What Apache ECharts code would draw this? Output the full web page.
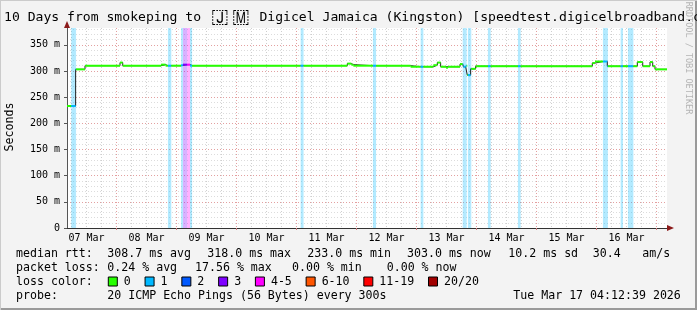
<!DOCTYPE html>
<html><head><meta charset="utf-8">
<script src="https://cdn.jsdelivr.net/npm/echarts@6/dist/echarts.min.js"></script>
<style>html,body{margin:0;padding:0;background:#f3f3f3}#c{width:697px;height:310px}</style>
</head><body><div id="c"></div><script>
// ---------------- data ----------------
const startTime = '03-07 04:12:39';
const endTime   = '03-17 04:12:39';
// median rtt step segments: start time, value (ms), loss class index
const segStart = ['03-07 04:12:39','03-07 05:55','03-07 07:40','03-07 07:50','03-07 11:25','03-08 01:25','03-08 02:30','03-08 17:50','03-08 19:40','03-08 20:35',
  '03-08 21:55','03-09 01:50','03-09 02:35','03-09 04:15','03-09 05:25','03-09 06:15','03-11 01:40','03-11 02:50','03-11 20:20','03-11 21:55',
  '03-11 22:45','03-12 06:35','03-12 07:50','03-12 21:40','03-13 01:40','03-13 02:45','03-13 06:45','03-13 08:20','03-13 09:40','03-13 11:50',
  '03-13 12:35','03-13 17:25','03-13 18:30','03-13 18:45','03-13 19:40','03-13 20:05','03-13 20:20','03-13 20:35','03-13 21:40','03-13 21:55',
  '03-13 23:40','03-14 04:35','03-14 05:40','03-14 16:35','03-14 17:40','03-15 22:20','03-15 23:25','03-16 02:35','03-16 04:20','03-16 04:35',
  '03-16 09:40','03-16 10:35','03-16 12:35','03-16 14:45','03-16 16:20','03-16 18:30','03-16 21:25','03-16 22:30','03-16 23:25'];
const medianMs = [233,233,303,303,310,316,310,312,310,310,
  310,311,312,312,310,310,310,310,314,312,
  310,310,310,308,308,308,311,316,308,306,
  308,313,313,308,310,310,292,292,304,304,
  309,309,309,309,309,315,318,318,309,309,
  309,309,309,309,317,309,317,309,303];
const lossIdx = [0,1,1,0,0,0,0,0,0,1,
  0,1,3,4,1,0,1,0,0,0,
  0,1,0,0,1,0,0,0,0,0,
  0,0,1,1,1,0,0,1,1,0,
  0,1,0,1,0,0,0,1,1,0,
  1,0,1,0,0,0,0,0,0];
const lossLabels = ['0','1','2','3','4-5','6-10','11-19','20/20'];
const lossColors = ['#26ff00','#00b8ff','#0059ff','#7e00ff','#ff00ff','#ff5500','#ff0000','#a10000'];
const yTickValues = [0,50,100,150,200,250,300,350];
const yTickLabels = ['0','50 m','100 m','150 m','200 m','250 m','300 m','350 m'];
const yMinorValues = [10,20,30,40,60,70,80,90,110,120,130,140,160,170,180,190,210,220,230,240,260,270,280,290,310,320,330,340,360,370,380];
const yMax = 382;
const dayLabels = ['07 Mar','08 Mar','09 Mar','10 Mar','11 Mar','12 Mar','13 Mar','14 Mar','15 Mar','16 Mar'];
const titleParts = ['10 Days from smokeping to ', '\u{1F1EF}', '\u{1F1F2}', ' Digicel Jamaica (Kingston) [speedtest.digicelbroadband.com]'];
const statRows = [
  [['median rtt:',16],['308.7 ms avg',107.3],['318.0 ms max',207.3],['233.0 ms min',307.3],['303.0 ms now',407],['10.2 ms sd',508.3],['30.4',592.7],['am/s',642.3]],
  [['packet loss:',16],['0.24 % avg',107.3],['17.56 % max',195],['0.00 % min',292],['0.00 % now',386.7]],
  [['loss color:',16]],
  [['probe:',16],['20 ICMP Echo Pings (56 Bytes) every 300s',107.3],['Tue Mar 17 04:12:39 2026',513.3]]
];
// ---------------- helpers ----------------
function ts(s){const m=s.match(/(\d+)-(\d+) (\d+):(\d+)(?::(\d+))?/);return Date.UTC(2026,+m[1]-1,+m[2],+m[3],+m[4],+(m[5]||0));}
const tMin=ts(startTime), tMax=ts(endTime), H=3600e3;
const midnights=[], sixHours=[], noons=[];
for(let t=Date.UTC(2026,2,7);t<=tMax;t+=6*H){ if(t<tMin) continue; if(new Date(t).getUTCHours()===0) midnights.push(t); else sixHours.push(t);}
dayLabels.forEach((d,i)=>noons.push(Date.UTC(2026,2,7+i,12)));
const segs=[];
for(let i=0;i<segStart.length;i++){segs.push([ts(segStart[i]), i+1<segStart.length?ts(segStart[i+1]):tMax, medianMs[i], lossIdx[i]]);}
const lineData=segs.map(s=>[s[0],s[2]]); lineData.push([tMax, medianMs[medianMs.length-1]]);
const lossBars=segs.filter(s=>s[3]>0);
function hexA(h,a){const n=parseInt(h.slice(1),16);return 'rgba('+(n>>16)+','+((n>>8)&255)+','+(n&255)+','+a+')';}
const FONT='"DejaVu Sans Mono", monospace';
const chart=echarts.init(document.getElementById('c'),null,{renderer:'canvas'});
const graphics=[];
graphics.push({type:'rect',shape:{x:695,y:0,width:2,height:310},style:{fill:'#9a9a9a'},z:-9});
graphics.push({type:'rect',shape:{x:0,y:308,width:697,height:2},style:{fill:'#9a9a9a'},z:-9});
graphics.push({type:'rect',shape:{x:0,y:0,width:697,height:1},style:{fill:'#cbcbcb'},z:-9});
graphics.push({type:'rect',shape:{x:0,y:0,width:1,height:310},style:{fill:'#cbcbcb'},z:-9});
graphics.push({type:'text',style:{
  text:'{t|'+titleParts[0]+'}{f|'+titleParts[1]+'}{f|'+titleParts[2]+'}{t|'+titleParts[3]+'}',
  x:4,y:18,verticalAlign:'middle',
  rich:{t:{font:'13.1px '+FONT,fill:'#000',lineHeight:16},f:{font:'20px '+FONT,fill:'#000',width:21.3,align:'center',lineHeight:16}}}});
graphics.push({type:'text',rotation:Math.PI/2,x:10,y:127,style:{text:'Seconds',align:'center',verticalAlign:'middle',font:'11.6px '+FONT,fill:'#000'}});
graphics.push({type:'text',rotation:-Math.PI/2,x:688,y:58,style:{text:'RRDTOOL / TOBI OETIKER',align:'center',verticalAlign:'middle',font:'8.5px '+FONT,fill:'#b4b4b4'}});
graphics.push({type:'polygon',shape:{points:[[64,28],[70,28],[67,21]]},style:{fill:'#8b1a1a'},z:100});
graphics.push({type:'polygon',shape:{points:[[667,225],[667,231],[674,228]]},style:{fill:'#8b1a1a'},z:100});
const rowY=[254,268,282,296];
statRows.forEach((row,r)=>row.forEach(([txt,x])=>graphics.push({type:'text',style:{text:txt,x:x,y:rowY[r],verticalAlign:'middle',font:'11.6px '+FONT,fill:'#000'}})));
let lx=108.3;
lossLabels.forEach((lab,i)=>{
  graphics.push({type:'rect',shape:{x:lx,y:rowY[2]-5,width:9,height:9},style:{fill:lossColors[i],stroke:'#000',lineWidth:1}});
  graphics.push({type:'text',style:{text:lab,x:lx+15.5,y:rowY[2],verticalAlign:'middle',font:'11.6px '+FONT,fill:'#000'}});
  lx=lx+15.5+lab.length*6.975+14.3;
});
const option={
  animation:false, backgroundColor:'#f3f3f3',
  grid:{left:67,top:28,width:600,height:200,show:true,backgroundColor:'#ffffff',borderWidth:0,containLabel:false},
  xAxis:[
    {type:'value',min:tMin,max:tMax,position:'bottom',scale:true,
     axisLine:{show:true,onZero:false,lineStyle:{color:'#333',width:1}},
     axisTick:{show:true,customValues:midnights,length:2,lineStyle:{color:'#d08080'}},
     axisLabel:{customValues:noons,margin:5,fontFamily:'DejaVu Sans Mono',fontSize:10,color:'#000',
       formatter:(v)=>{const i=noons.indexOf(v);return i>=0?dayLabels[i]:'';}},
     splitLine:{show:true,lineStyle:{color:'#e3a0a0',type:[1,2],width:1}}},
    {type:'value',min:tMin,max:tMax,position:'bottom',scale:true,
     axisLine:{show:false},axisTick:{show:false,customValues:sixHours},axisLabel:{show:false},
     splitLine:{show:true,lineStyle:{color:'#cfcfcf',type:[1,2],width:1}}}
  ],
  yAxis:[
    {type:'value',min:0,max:yMax,position:'left',
     axisLine:{show:true,lineStyle:{color:'#555',width:1}},
     axisTick:{show:true,customValues:yTickValues,length:3,lineStyle:{color:'#555'}},
     axisLabel:{customValues:yTickValues,margin:7,fontFamily:'DejaVu Sans Mono',fontSize:10,color:'#000',
       formatter:(v)=>{const i=yTickValues.indexOf(v);return i>=0?yTickLabels[i]:'';}},
     splitLine:{show:true,lineStyle:{color:'#e3a0a0',type:[1,2],width:1}}},
    {type:'value',min:0,max:yMax,position:'left',
     axisLine:{show:false},axisTick:{show:false,customValues:yMinorValues},axisLabel:{show:false},
     splitLine:{show:true,lineStyle:{color:'#dcdcdc',type:[1,2],width:1}}}
  ],
  series:[
    {type:'custom',name:'lossbg',xAxisIndex:0,yAxisIndex:0,data:lossBars,encode:{x:[0,1],y:2},z:1,
     renderItem:(p,api)=>{const a=api.coord([api.value(0),yMax]),b=api.coord([api.value(1),0]);
       return {type:'rect',shape:{x:a[0],y:a[1],width:b[0]-a[0],height:b[1]-a[1]},style:{fill:hexA(lossColors[api.value(3)],0.3)}};}},
    {type:'line',name:'median',xAxisIndex:0,yAxisIndex:0,data:lineData,step:'end',showSymbol:false,symbol:'none',
     lineStyle:{color:'#202020',width:1},z:3},
    {type:'custom',name:'medianBand',xAxisIndex:0,yAxisIndex:0,data:segs,encode:{x:[0,1],y:2},z:4,
     renderItem:(p,api)=>{const a=api.coord([api.value(0),api.value(2)]),b=api.coord([api.value(1),api.value(2)]);
       return {type:'rect',shape:{x:a[0],y:a[1]-1,width:b[0]-a[0],height:2},style:{fill:lossColors[api.value(3)]}};}}
  ],
  graphic:graphics
};
chart.setOption(option);
</script></body></html>
